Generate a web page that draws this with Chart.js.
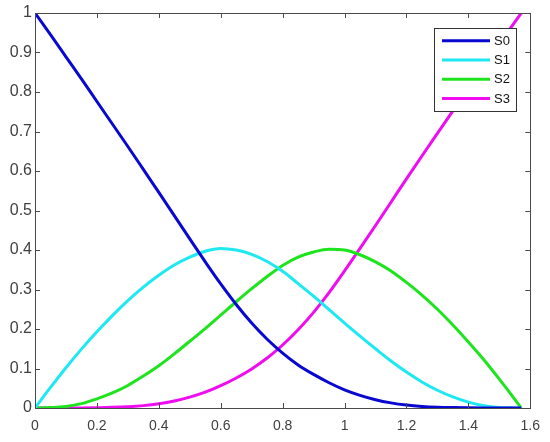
<!DOCTYPE html>
<html><head><meta charset="utf-8">
<script src="https://cdn.jsdelivr.net/npm/chart.js@4"></script>
<style>html,body{margin:0;padding:0;background:#fff}#wrap{width:550px;height:442px;position:relative}</style>
</head><body><div id="wrap"><canvas id="c"></canvas></div>
<script>
// ---- data ----
const xs = [0, 0.05, 0.1, 0.15, 0.2, 0.25, 0.3, 0.35, 0.4, 0.45, 0.5, 0.55, 0.6, 0.65, 0.7, 0.75, 0.8,
            0.85, 0.9, 0.95, 1.0, 1.05, 1.1, 1.15, 1.2, 1.25, 1.3, 1.35, 1.4, 1.45, 1.5, 1.55, 1.5708];
const s0 = [1.000, 0.945, 0.889, 0.833, 0.776, 0.719, 0.662, 0.604, 0.546, 0.487, 0.428, 0.370, 0.314, 0.262, 0.215, 0.174, 0.139,
            0.109, 0.085, 0.064, 0.046, 0.032, 0.021, 0.013, 0.0075, 0.004, 0.002, 0.001, 0.0004, 0.0001, 0, 0, 0];
const s1 = [0, 0.052, 0.102, 0.149, 0.193, 0.234, 0.272, 0.306, 0.336, 0.362, 0.382, 0.397, 0.404, 0.400, 0.389, 0.371, 0.346,
            0.315, 0.283, 0.249, 0.215, 0.182, 0.150, 0.119, 0.091, 0.066, 0.045, 0.028, 0.015, 0.006, 0.0015, 0.0002, 0];
const s2 = [0, 0.001, 0.004, 0.011, 0.023, 0.038, 0.057, 0.081, 0.107, 0.137, 0.169, 0.201, 0.235, 0.269, 0.302, 0.333, 0.361,
            0.382, 0.395, 0.402, 0.400, 0.388, 0.370, 0.347, 0.318, 0.286, 0.250, 0.210, 0.167, 0.122, 0.073, 0.022, 0];
const s3 = [0, 0, 0.0001, 0.0003, 0.0008, 0.0016, 0.0032, 0.006, 0.0107, 0.0177, 0.0274, 0.040, 0.0565, 0.076, 0.099, 0.1265, 0.1595,
            0.198, 0.242, 0.292, 0.347, 0.404, 0.462, 0.521, 0.580, 0.638, 0.695, 0.752, 0.809, 0.866, 0.922, 0.977, 1.000];
const seriesNames = ['S0', 'S1', 'S2', 'S3'];
const xTickValues = [0, 0.2, 0.4, 0.6, 0.8, 1, 1.2, 1.4, 1.6];
const yTickValues = [0, 0.1, 0.2, 0.3, 0.4, 0.5, 0.6, 0.7, 0.8, 0.9, 1];

// ---- styles ----
const seriesColors = ['#0808d0', '#1ee8f2', '#1ee41e', '#f00cf0'];
const FONT = "'Liberation Sans', Arial, sans-serif";
const AXIS = '#4a4a4a';
const TEXT = '#404040';

const allSeries = [s0, s1, s2, s3];
const datasets = allSeries.map((s, k) => ({
  label: seriesNames[k],
  data: xs.map((x, i) => ({x: x, y: s[i]})),
  borderColor: seriesColors[k],
  backgroundColor: seriesColors[k],
  borderWidth: 3,
  pointRadius: 0,
  fill: false,
  cubicInterpolationMode: 'monotone'
}));

const boxPlugin = {
  id: 'boxTicks',
  afterDraw(chart) {
    const {ctx, chartArea: a, scales} = chart;
    ctx.save();
    ctx.strokeStyle = AXIS;
    ctx.lineWidth = 1;
    ctx.strokeRect(Math.round(a.left) + 0.5, Math.round(a.top) + 0.5, Math.round(a.right - a.left), Math.round(a.bottom - a.top));
    const tl = 5;
    ctx.beginPath();
    scales.x.ticks.forEach(t => {
      const px = Math.round(scales.x.getPixelForValue(t.value)) + 0.5;
      ctx.moveTo(px, a.bottom); ctx.lineTo(px, a.bottom - tl);
      ctx.moveTo(px, a.top); ctx.lineTo(px, a.top + tl);
    });
    scales.y.ticks.forEach(t => {
      const py = Math.round(scales.y.getPixelForValue(t.value)) + 0.5;
      ctx.moveTo(a.left, py); ctx.lineTo(a.left + tl, py);
      ctx.moveTo(a.right, py); ctx.lineTo(a.right - tl, py);
    });
    ctx.stroke();

    // legend box (top-right, inside axes)
    const bw = 82, bh = 83;
    const bx = Math.round(a.right) - 14 - bw;
    const by = Math.round(a.top) + 15;
    ctx.fillStyle = '#fff';
    ctx.fillRect(bx, by, bw, bh);
    ctx.strokeStyle = '#333';
    ctx.lineWidth = 1;
    ctx.strokeRect(bx + 0.5, by + 0.5, bw, bh);
    ctx.font = '13px ' + FONT;
    ctx.textBaseline = 'middle';
    ctx.textAlign = 'left';
    chart.data.datasets.forEach((d, i) => {
      const ly = by + 12.7 + i * 19.3;
      ctx.strokeStyle = d.borderColor;
      ctx.lineWidth = 3;
      ctx.beginPath();
      ctx.moveTo(bx + 8, ly); ctx.lineTo(bx + 56, ly);
      ctx.stroke();
      ctx.fillStyle = '#111';
      ctx.fillText(d.label, bx + 60, ly + 0.5);
    });
    ctx.restore();
  }
};

const fmt = v => String(Number(v.toFixed(2)));

new Chart(document.getElementById('c'), {
  type: 'line',
  data: {datasets},
  options: {
    responsive: true,
    maintainAspectRatio: false,
    animation: false,
    layout: {padding: {top: 13, right: 18, left: 0, bottom: 0}},
    plugins: {legend: {display: false}, tooltip: {enabled: false}},
    scales: {
      x: {
        type: 'linear', min: 0, max: 1.6,
        afterBuildTicks: s => { s.ticks = xTickValues.map(v => ({value: v})); },
        afterFit: s => { s.height = 34; },
        grid: {display: false, drawTicks: false},
        border: {display: false},
        ticks: {color: TEXT, font: {family: FONT, size: 14}, padding: 10, callback: v => fmt(v), maxRotation: 0, autoSkip: false}
      },
      y: {
        type: 'linear', min: 0, max: 1,
        afterBuildTicks: s => { s.ticks = yTickValues.map(v => ({value: v})); },
        afterFit: s => { s.width = 35; },
        grid: {display: false, drawTicks: false},
        border: {display: false},
        ticks: {color: TEXT, font: {family: FONT, size: 16}, padding: 3, callback: v => fmt(v), autoSkip: false}
      }
    }
  },
  plugins: [boxPlugin]
});
</script>
</body></html>
